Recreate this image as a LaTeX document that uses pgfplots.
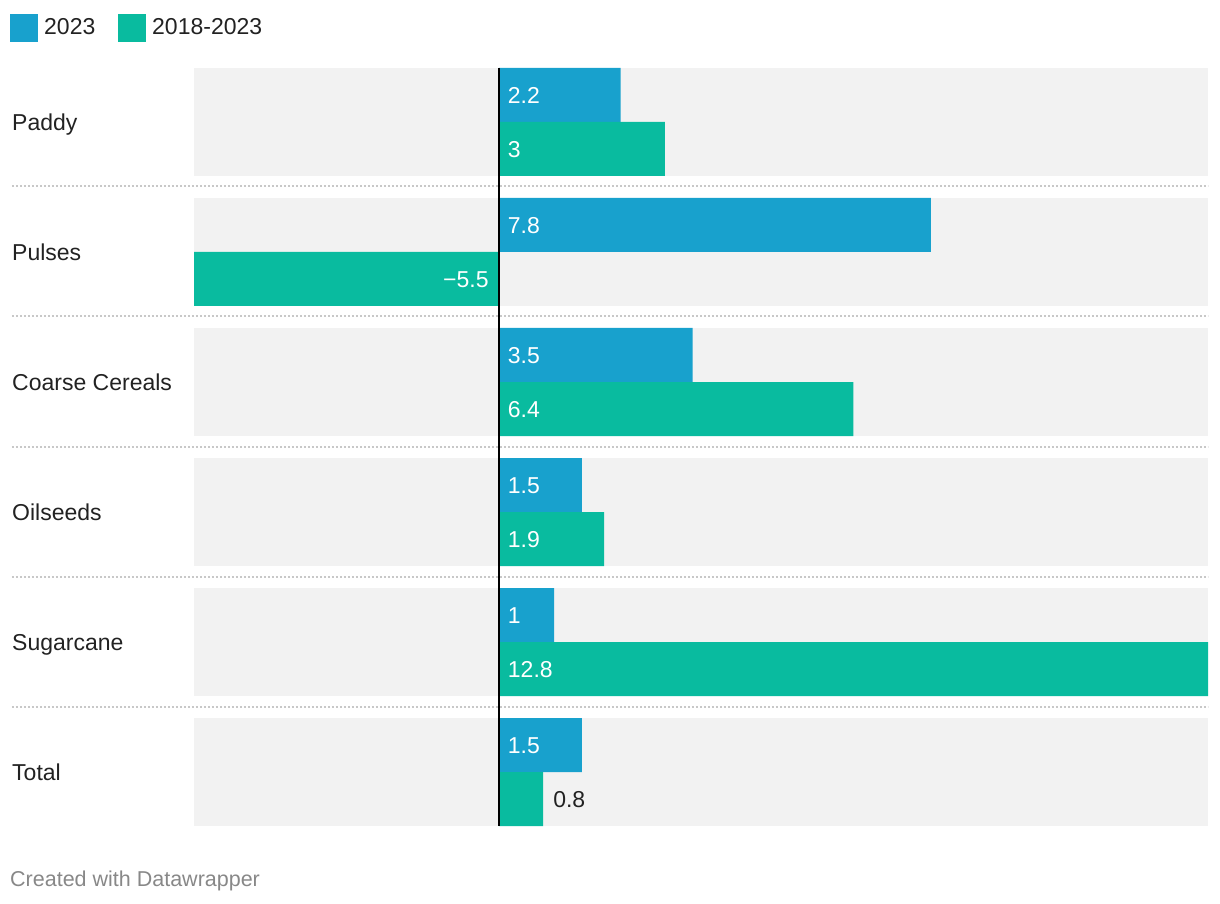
\documentclass[border=0pt]{standalone}
\usepackage{pgfplots}
\pgfplotsset{compat=1.18}
\usepackage{fontspec}
\setmainfont{Liberation Sans}
\definecolor{cA}{HTML}{18A1CD}
\definecolor{cB}{HTML}{09BB9F}
\definecolor{bggray}{HTML}{F2F2F2}
\definecolor{sepgray}{HTML}{C8C8C8}
\definecolor{txt}{HTML}{222222}
\definecolor{foot}{HTML}{888888}
\newcommand\lbl{\fontsize{23}{27}\selectfont}
\newcommand\mn{\char"2212\relax}
\tikzset{lab/.style={inner sep=0pt, text height=16.5pt, text depth=0pt, font=\lbl}}
\begin{document}
\begin{tikzpicture}[x=1pt,y=1pt]
\useasboundingbox (0,0) rectangle (1220,904);
\begin{axis}[
    at={(194pt,78pt)}, anchor=south west,
    scale only axis,
    width=1014pt, height=758pt,
    xmin=-5.5, xmax=12.8,
    ymin=68, ymax=826,
    y dir=reverse,
    clip=false,
    axis line style={draw=none},
    xtick=\empty,
    ytick={122,252,382,512,642,772},
    yticklabels={Paddy,Pulses,Coarse Cereals,Oilseeds,Sugarcane,Total},
    major tick length=0pt,
    yticklabel style={lab, anchor=west, xshift=-182pt, text=txt},
]
% grey group backgrounds
\fill[bggray] (axis cs:-5.5,68) rectangle (axis cs:12.8,176);
\fill[bggray] (axis cs:-5.5,198) rectangle (axis cs:12.8,306);
\fill[bggray] (axis cs:-5.5,328) rectangle (axis cs:12.8,436);
\fill[bggray] (axis cs:-5.5,458) rectangle (axis cs:12.8,566);
\fill[bggray] (axis cs:-5.5,588) rectangle (axis cs:12.8,696);
\fill[bggray] (axis cs:-5.5,718) rectangle (axis cs:12.8,826);
% dotted separators
\pgfplotsinvokeforeach{186.5,316.5,446.5,576.5,706.5}{
  \draw[sepgray, line width=2pt, dash pattern=on 2pt off 2pt] (axis cs:-8.785,#1) -- (axis cs:12.8,#1);
}

\addplot[xbar, bar width=54, bar shift=0pt, fill=cA, draw=none]
  coordinates {(2.2,95) (7.8,225) (3.5,355) (1.5,485) (1,615) (1.5,745)};
\addplot[xbar, bar width=54, bar shift=0pt, fill=cB, draw=none]
  coordinates {(3,149) (-5.5,279) (6.4,409) (1.9,539) (12.8,669) (0.8,799)};

% value labels
\addplot[draw=none, mark=none, nodes near coords, point meta=explicit symbolic,
  every node near coord/.append style={lab, anchor=west, xshift=9pt, text=white}]
  coordinates {(0,95)[2.2] (0,225)[7.8] (0,355)[3.5] (0,485)[1.5] (0,615)[1] (0,745)[1.5]
               (0,149)[3] (0,409)[6.4] (0,539)[1.9] (0,669)[12.8]};
\addplot[draw=none, mark=none, nodes near coords, point meta=explicit symbolic,
  every node near coord/.append style={lab, anchor=east, xshift=-10pt, text=white}]
  coordinates {(0,279)[{\mn 5.5}]};
\addplot[draw=none, mark=none, nodes near coords, point meta=explicit symbolic,
  every node near coord/.append style={lab, anchor=west, xshift=10pt, text=txt}]
  coordinates {(0.8,799)[0.8]};

\draw[black, line width=2pt] (axis cs:0,68) -- (axis cs:0,826);
\end{axis}
% legend
\fill[cA] (10,862) rectangle (38,890);
\node[lab, anchor=west, text=txt] at (44,878) {2023};
\fill[cB] (118,862) rectangle (146,890);
\node[lab, anchor=west, text=txt] at (152,878) {2018-2023};
% footer
\node[inner sep=0pt, anchor=west, text=foot, font=\fontsize{21.5}{25}\selectfont, text height=15.4pt, text depth=0pt] at (10,25.5) {Created with Datawrapper};
\end{tikzpicture}
\end{document}
